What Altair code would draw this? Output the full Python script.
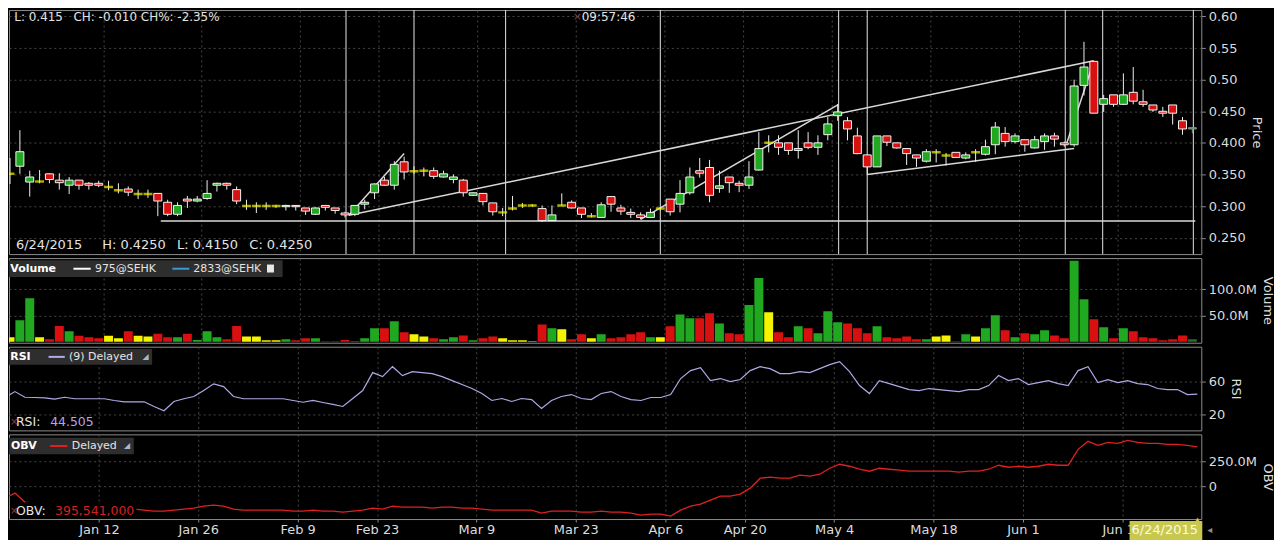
import json
import altair as alt
import pandas as pd

# ---------------- data ----------------
opens = [0.351, 0.363, 0.338, 0.339, 0.351, 0.341, 0.333, 0.341, 0.336, 0.336,
         0.330, 0.325, 0.327, 0.319, 0.319, 0.320, 0.306, 0.287, 0.311, 0.308,
         0.312, 0.333, 0.336, 0.326, 0.300, 0.300, 0.300, 0.300, 0.299, 0.301,
         0.297, 0.287, 0.301, 0.297, 0.289, 0.287, 0.303, 0.321, 0.341, 0.333,
         0.370, 0.355, 0.356, 0.356, 0.346, 0.342, 0.341, 0.317, 0.320, 0.305,
         0.290, 0.296, 0.301, 0.301, 0.296, 0.277, 0.301, 0.306, 0.297, 0.284,
         0.282, 0.315, 0.297, 0.290, 0.286, 0.282, 0.296, 0.311, 0.303, 0.321,
         0.356, 0.361, 0.328, 0.346, 0.336, 0.333, 0.357, 0.400, 0.400, 0.400,
         0.388, 0.400, 0.393, 0.413, 0.443, 0.435, 0.411, 0.381, 0.362, 0.411,
         0.400, 0.391, 0.381, 0.371, 0.385, 0.380, 0.385, 0.376, 0.385, 0.382,
         0.397, 0.415, 0.402, 0.405, 0.392, 0.402, 0.411, 0.400, 0.397, 0.491,
         0.529, 0.461, 0.476, 0.461, 0.480, 0.465, 0.460, 0.450, 0.460, 0.435,
         0.422]
highs = [0.376, 0.420, 0.356, 0.357, 0.352, 0.352, 0.346, 0.341, 0.338, 0.340,
         0.340, 0.336, 0.331, 0.326, 0.326, 0.320, 0.310, 0.306, 0.316, 0.316,
         0.341, 0.337, 0.337, 0.331, 0.310, 0.306, 0.306, 0.302, 0.302, 0.301,
         0.297, 0.298, 0.301, 0.297, 0.291, 0.301, 0.310, 0.336, 0.346, 0.371,
         0.378, 0.363, 0.361, 0.361, 0.356, 0.350, 0.343, 0.322, 0.320, 0.305,
         0.297, 0.316, 0.305, 0.303, 0.301, 0.301, 0.320, 0.309, 0.297, 0.289,
         0.306, 0.315, 0.302, 0.296, 0.290, 0.296, 0.298, 0.311, 0.341, 0.361,
         0.376, 0.373, 0.356, 0.346, 0.340, 0.371, 0.417, 0.412, 0.412, 0.400,
         0.420, 0.417, 0.412, 0.441, 0.461, 0.441, 0.424, 0.381, 0.411, 0.411,
         0.400, 0.391, 0.381, 0.390, 0.390, 0.384, 0.385, 0.385, 0.390, 0.405,
         0.433, 0.425, 0.415, 0.405, 0.411, 0.415, 0.416, 0.402, 0.500, 0.560,
         0.529, 0.476, 0.476, 0.510, 0.520, 0.484, 0.460, 0.457, 0.460, 0.441,
         0.425]
lows = [0.335, 0.351, 0.315, 0.336, 0.336, 0.326, 0.319, 0.326, 0.326, 0.330,
        0.325, 0.320, 0.316, 0.311, 0.313, 0.284, 0.284, 0.284, 0.297, 0.306,
        0.310, 0.323, 0.326, 0.303, 0.294, 0.289, 0.294, 0.297, 0.293, 0.293,
        0.286, 0.286, 0.293, 0.288, 0.282, 0.284, 0.295, 0.311, 0.332, 0.326,
        0.342, 0.351, 0.347, 0.343, 0.345, 0.336, 0.315, 0.316, 0.301, 0.285,
        0.284, 0.293, 0.297, 0.299, 0.275, 0.277, 0.300, 0.296, 0.281, 0.282,
        0.281, 0.291, 0.286, 0.281, 0.279, 0.281, 0.293, 0.285, 0.290, 0.318,
        0.345, 0.306, 0.321, 0.321, 0.322, 0.327, 0.356, 0.385, 0.381, 0.381,
        0.375, 0.390, 0.381, 0.404, 0.435, 0.404, 0.382, 0.350, 0.362, 0.395,
        0.391, 0.365, 0.362, 0.369, 0.369, 0.364, 0.376, 0.374, 0.370, 0.380,
        0.382, 0.394, 0.399, 0.386, 0.391, 0.389, 0.394, 0.394, 0.394, 0.475,
        0.447, 0.449, 0.457, 0.460, 0.461, 0.457, 0.449, 0.441, 0.429, 0.413,
        0.415]
closes = [0.351, 0.386, 0.346, 0.339, 0.342, 0.337, 0.341, 0.333, 0.333, 0.333,
          0.330, 0.325, 0.322, 0.319, 0.319, 0.308, 0.287, 0.301, 0.308, 0.311,
          0.320, 0.336, 0.333, 0.308, 0.300, 0.300, 0.300, 0.300, 0.301, 0.299,
          0.292, 0.297, 0.298, 0.293, 0.286, 0.301, 0.306, 0.335, 0.333, 0.366,
          0.354, 0.355, 0.356, 0.347, 0.351, 0.346, 0.321, 0.321, 0.307, 0.291,
          0.290, 0.296, 0.301, 0.301, 0.277, 0.286, 0.301, 0.297, 0.287, 0.284,
          0.302, 0.303, 0.292, 0.287, 0.282, 0.290, 0.296, 0.291, 0.320, 0.346,
          0.352, 0.317, 0.332, 0.337, 0.333, 0.346, 0.391, 0.400, 0.393, 0.388,
          0.391, 0.393, 0.400, 0.430, 0.449, 0.422, 0.383, 0.362, 0.411, 0.401,
          0.392, 0.383, 0.376, 0.386, 0.385, 0.380, 0.377, 0.381, 0.385, 0.394,
          0.425, 0.402, 0.411, 0.397, 0.405, 0.411, 0.406, 0.397, 0.490, 0.520,
          0.447, 0.470, 0.461, 0.476, 0.466, 0.461, 0.452, 0.447, 0.447, 0.422,
          0.424]
volumes_m = [8.3, 41, 83, 8.3, 4.5, 30, 20, 11.5, 8.3, 6.4,
             11.5, 6.4, 20, 11.5, 10, 15, 8.3, 8.3, 15, 3,
             20, 8.3, 4.5, 30, 10, 10, 2.6, 2.6, 4.5, 2.6,
             6.4, 6.4, 0.8, 0.8, 3, 0.8, 6.4, 25.6, 25.6, 39,
             18, 14, 10, 6.4, 4.5, 8.3, 12, 2.6, 6.4, 10,
             6.4, 2.6, 2.6, 0.8, 33, 25.6, 23.7, 4.5, 14, 6.4,
             14, 6.4, 8.3, 14, 18, 8.3, 8.3, 29.5, 52, 45,
             45, 54.5, 35, 16, 14, 70, 122, 56.4, 18, 8.3,
             29.5, 25.6, 16, 58, 37, 35, 25.6, 16, 29.5, 8.3,
             6.4, 10, 4.5, 4.5, 10, 12, 0.8, 14, 10, 25.6,
             50.6, 22, 8.3, 16, 14, 22, 12, 6.4, 155, 81.4,
             43, 27.6, 6.4, 25.6, 20, 8.3, 6.4, 2.6, 4.5, 12,
             4.5]
rsi_values = [40.6, 47.6, 40.9, 40.6, 40.2, 38.6, 40.9, 39.1, 39.1, 39.1,
              39.1, 37.1, 35.5, 35.5, 35.5, 30.0, 24.9, 35.9, 39.1, 41.8,
              48.8, 56.7, 53.5, 41.8, 39.1, 39.1, 39.1, 39.1, 39.1, 37.1,
              35.0, 37.1, 34.7, 32.4, 30.0, 39.4, 48.8, 70.0, 65.3, 77.0,
              66.5, 71.2, 70.0, 68.8, 65.3, 60.6, 55.9, 51.2, 45.3, 37.1,
              39.4, 35.9, 39.4, 38.2, 27.6, 37.1, 41.8, 44.1, 39.4, 38.2,
              45.3, 47.6, 41.8, 38.2, 37.1, 40.6, 40.6, 44.1, 63.0, 72.4,
              75.9, 60.6, 63.0, 59.4, 61.8, 72.4, 77.0, 74.7, 68.8, 68.8,
              71.2, 70.0, 74.7, 79.4, 82.9, 71.2, 54.7, 45.3, 60.6, 57.0,
              53.5, 50.0, 48.8, 51.2, 50.0, 48.8, 47.6, 50.0, 50.0, 54.7,
              66.5, 60.6, 63.0, 55.9, 58.2, 60.6, 57.0, 54.7, 72.4, 77.0,
              58.2, 61.8, 58.2, 60.6, 57.0, 55.9, 51.2, 50.0, 50.0, 44.1,
              44.5]
obv_m = [-120, -70, -160, -170, -180, -200, -190, -200, -210, -210,
         -210, -210, -220, -230, -240, -250, -250, -240, -230, -220,
         -200, -190, -200, -230, -240, -240, -240, -240, -240, -250,
         -250, -240, -250, -250, -260, -250, -240, -220, -230, -200,
         -210, -210, -210, -220, -210, -210, -220, -220, -230, -240,
         -240, -240, -240, -240, -270, -250, -250, -250, -260, -260,
         -250, -260, -260, -270, -290, -280, -280, -300, -240, -200,
         -180, -140, -100, -100, -80, -20, 80, 90, 80, 80,
         110, 100, 120, 180, 220, 200, 170, 150, 180, 170,
         160, 150, 150, 150, 150, 150, 140, 150, 150, 170,
         210, 190, 200, 190, 200, 220, 210, 210, 370, 450,
         410, 440, 430, 460, 440, 430, 430, 420, 420, 410,
         395.5]

# x tick labels (trading-day index of each labelled date)
tick_days = [9, 19, 29, 37, 47, 57, 66, 74, 83, 93, 102, 112]
tick_labels = ["Jan 12", "Jan 26", "Feb 9", "Feb 23", "Mar 9", "Mar 23",
               "Apr 6", "Apr 20", "May 4", "May 18", "Jun 1", "Jun 15"]
price_ticks = [0.25, 0.30, 0.35, 0.40, 0.45, 0.50, 0.55, 0.60]

# drawn annotations (day index / price)
vline_days = [34.1, 41.0, 50.3, 66.0, 84.1, 87.0, 107.1, 110.9, 120.1]
seg_x1 = [34.4, 34.4, 64.0, 87.0, 107.2, 15.3]
seg_y1 = [0.2855, 0.2855, 0.279, 0.350, 0.397, 0.2765]
seg_x2 = [110.0, 40.0, 84.1, 108.0, 110.0, 120.3]
seg_y2 = [0.530, 0.383, 0.461, 0.391, 0.529, 0.2765]

# ---------------- tables ----------------
GREEN, RED, YELLOW = "#20a820", "#d81010", "#f4f400"
n = len(opens)
tone = []
for k in range(n):
    if k == n - 1:
        tone.append("#5e7e5e")
    elif closes[k] > opens[k]:
        tone.append(GREEN)
    elif closes[k] < opens[k]:
        tone.append(RED)
    else:
        tone.append(YELLOW)

df = pd.DataFrame({"i": list(range(n)), "o": opens, "h": highs, "l": lows,
                   "c": closes, "v": volumes_m, "rsi": rsi_values, "obv": obv_m,
                   "col": tone})
df["lo"] = df[["o", "c"]].min(axis=1)
df["hi"] = df[["o", "c"]].max(axis=1)
df["wick"] = ["#f0f0f0"] * (n - 1) + ["#8a9a8a"]
df["edge"] = ["#f4f4f4"] * (n - 1) + ["#8a9a8a"]
vol_col = list(df["col"])
vol_col[-1] = "#2e6a2e"
df["vcol"] = vol_col

bodies = df[df["o"] != df["c"]]
dojis = df[df["o"] == df["c"]]
vlines = pd.DataFrame({"x": vline_days})
segs = pd.DataFrame({"x": seg_x1, "y": seg_y1, "x2": seg_x2, "y2": seg_y2})

W = 1197
XS = alt.Scale(domain=[0.401, 120.401], nice=False, zero=False)
XT = [d + 0.45 for d in tick_days]
label_expr = f"{json.dumps(tick_labels)}[indexof({json.dumps(XT)}, datum.value)]"
x_grid = alt.Axis(values=XT, tickCount=40, grid=True, labels=False, ticks=False, domain=False,
                  title=None, labelPadding=0, minExtent=0, maxExtent=0, offset=0)
x_bottom = alt.Axis(values=XT, tickCount=40, grid=True, labelExpr=label_expr, ticks=True,
                    tickSize=3, domain=False, title=None, labelPadding=2, labelOverlap=False)

one = pd.DataFrame({"k": [0]})
FONT = "DejaVu Sans"


def txt(x, y, s, color="#e4e4e4", size=12, weight="normal", align="left", font=FONT):
    return alt.Chart(one).mark_text(text=s, align=align, baseline="middle", color=color,
                                    fontSize=size, fontWeight=weight, font=font).encode(
        x=alt.value(x), y=alt.value(y))


def box(x, x2, y, y2, color):
    return alt.Chart(one).mark_rect(color=color).encode(
        x=alt.value(x), x2=alt.value(x2), y=alt.value(y), y2=alt.value(y2))


def swatch(x, x2, y, color, w=2):
    return alt.Chart(one).mark_rule(color=color, strokeWidth=w).encode(
        x=alt.value(x), x2=alt.value(x2), y=alt.value(y))


# ---------------- price panel ----------------
PY = alt.Scale(domain=[0.224, 0.6102], nice=False, zero=False)
price_axis = alt.Axis(orient="right", values=price_ticks, tickCount=20, title="Price",
                      labelOverlap=False,
                      labelExpr="datum.value > 0.49 ? format(datum.value, '.2f') : format(datum.value, '.3f')")

wicks = alt.Chart(df).mark_rule(strokeWidth=1, clip=True).encode(
    x=alt.X("i:Q", scale=XS, axis=x_grid),
    y=alt.Y("l:Q", scale=PY, axis=price_axis),
    y2="h:Q",
    color=alt.Color("wick:N", scale=None))
vl = alt.Chart(vlines).mark_rule(color="#e6e6e6", strokeWidth=1, clip=True).encode(x="x:Q")
trend = alt.Chart(segs).mark_rule(color="#d8d8d8", strokeWidth=1.5, clip=True).encode(
    x="x:Q", y="y:Q", x2="x2:Q", y2="y2:Q")
body = alt.Chart(bodies).mark_bar(width=8, strokeWidth=1, clip=True).encode(
    x="i:Q", y="lo:Q", y2="hi:Q",
    fill=alt.Fill("col:N", scale=None), stroke=alt.Stroke("edge:N", scale=None))
doji = alt.Chart(dojis).mark_tick(orient="horizontal", size=9, thickness=2.5, color=YELLOW,
                                  clip=True).encode(x="i:Q", y="c:Q")

price = alt.layer(
    vl, trend, wicks, body, doji,
    txt(5.3, 7, "L: 0.415"),
    txt(64.7, 7, "CH: -0.010 CH%: -2.35%"),
    txt(566, 7, "×", color="#8b3a3a", size=11),
    txt(575, 7, "09:57:46"),
    txt(7, 236.3, "6/24/2015", size=13),
    txt(93.7, 236.3, "H: 0.4250", size=13),
    txt(168.7, 236.3, "L: 0.4150", size=13),
    txt(241.3, 236.3, "C: 0.4250", size=13),
).properties(width=W, height=245)

# ---------------- volume panel ----------------
VY = alt.Scale(domain=[-2, 160], nice=False, zero=False)
vol_axis = alt.Axis(orient="right", values=[50, 100], tickCount=20, title="Volume",
                    labelOverlap=False, labelExpr="format(datum.value, '.1f') + 'M'")
vbars = alt.Chart(df).mark_bar(width=9, clip=True).encode(
    x=alt.X("i:Q", scale=XS, axis=x_grid),
    y=alt.Y("v:Q", scale=VY, axis=vol_axis),
    y2=alt.datum(0),
    fill=alt.Fill("vcol:N", scale=None))
volume = alt.layer(
    vbars,
    box(0, 274.7, 2.3, 19, "#2e2e2e"),
    txt(1.3, 10.7, "Volume", color="#ffffff", size=11, weight="bold"),
    swatch(64.7, 82, 10.7, "#ffffff"),
    txt(86.3, 10.7, "975@SEHK", size=11),
    swatch(164, 181, 10.7, "#3a9ad9"),
    txt(185, 10.7, "2833@SEHK", size=11),
    box(259, 266, 6.5, 14.5, "#e8e8e8"),
).properties(width=W, height=85)

# ---------------- RSI panel ----------------
RY = alt.Scale(domain=[1.76, 100.6], nice=False, zero=False)
rsi_axis = alt.Axis(orient="right", values=[20, 60], tickCount=20, title="RSI", labelOverlap=False)
rline = alt.Chart(df).mark_line(color="#b3a6e6", strokeWidth=1.2, clip=True).encode(
    x=alt.X("i:Q", scale=XS, axis=x_grid),
    y=alt.Y("rsi:Q", scale=RY, axis=rsi_axis))
rsi = alt.layer(
    rline,
    box(0, 143.7, 2.3, 18, "#2e2e2e"),
    txt(1.3, 10.2, "RSI", color="#ffffff", size=11, weight="bold"),
    swatch(39.7, 56, 10.2, "#b8a8ea"),
    txt(60.3, 10.2, "(9) Delayed", size=11),
    txt(137, 10.2, "◢", color="#a8b8d0", size=8, align="center"),
    txt(1, 75.7, "×", color="#8b3a3a", size=10),
    txt(7, 75.7, "RSI:", size=12.5),
    txt(41.3, 75.7, "44.505", color="#b3a6e6", size=12.5),
).properties(width=W, height=84)

# ---------------- OBV panel ----------------
OY = alt.Scale(domain=[-330, 520], nice=False, zero=False)
obv_axis = alt.Axis(orient="right", values=[0, 250], tickCount=20, title="OBV", labelOverlap=False,
                    labelExpr="datum.value == 0 ? '0' : format(datum.value, '.1f') + 'M'")
oline = alt.Chart(df).mark_line(color="#e02020", strokeWidth=1.3, clip=True).encode(
    x=alt.X("i:Q", scale=XS, axis=x_bottom),
    y=alt.Y("obv:Q", scale=OY, axis=obv_axis))
obv = alt.layer(
    oline,
    box(16, 128, 68, 84.5, "#000000"),
    box(0, 125.3, 3.3, 20, "#2e2e2e"),
    txt(2, 11.7, "OBV", color="#ffffff", size=11, weight="bold"),
    swatch(41.3, 58.7, 11.7, "#e02020"),
    txt(63, 11.7, "Delayed", size=11),
    txt(118.5, 11.7, "◢", color="#a8b8d0", size=8, align="center"),
    txt(1, 77, "×", color="#8b3a3a", size=10),
    txt(7, 77, "OBV:", size=12.5),
    txt(46.3, 77, "395,541,000", color="#d82020", size=12.5),
    box(1125, 1198, 87, 106, "#c8c84e"),
    txt(1127, 96, "6/24/2015", color="#fbfbe6", size=13),
    txt(1193, 86, "▲", color="#c8c84e", size=7, align="center"),
    txt(1203, 96, "◂", color="#8a8a8a", size=10),
).properties(width=W, height=85)

chart = alt.vconcat(price, volume, rsi, obv, spacing=4, bounds="flush").properties(
    background="#000000", padding=0
).configure_axis(
    labelFont=FONT, labelFontSize=13, labelColor="#dcdcdc", labelOverlap=False,
    titleFont=FONT, titleFontSize=13, titleFontWeight="normal", titleColor="#dcdcdc",
    gridColor="#474747", gridDash=[2, 3], gridWidth=1,
    tickColor="#8c8c8c", tickSize=4, labelPadding=3, domain=False,
).configure_view(stroke="#8c8c8c", strokeWidth=1)

chart.save("out.html", embed_options={"renderer": "svg", "actions": False})
